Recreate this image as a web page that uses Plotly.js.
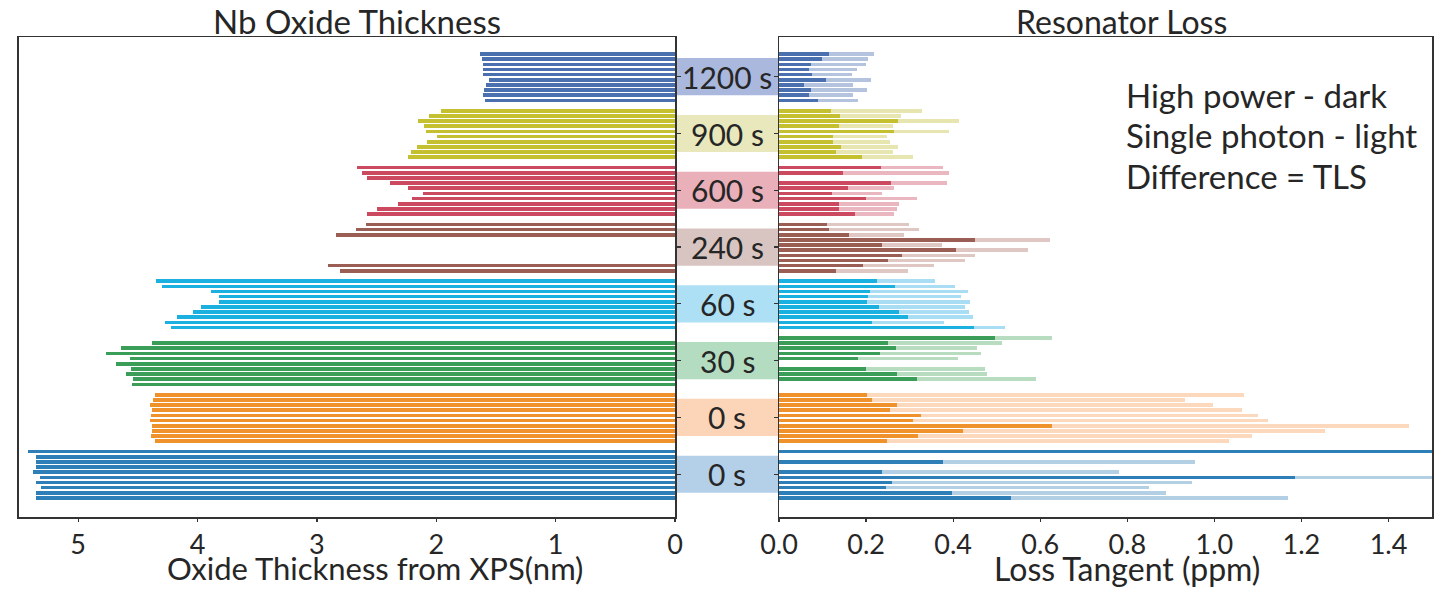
<!DOCTYPE html>
<html>
<head>
<meta charset="utf-8">
<script src="https://cdn.plot.ly/plotly-3.0.1.min.js"></script>
<style>html,body{margin:0;padding:0;background:#fff;}#chart{width:1443px;height:589px;}</style>
</head>
<body>
<div id="chart"></div>
<script>
// Groups from top to bottom
const groupLabels = ["1200 s", "900 s", "600 s", "240 s", "60 s", "30 s", "0 s", "0 s"];
const darkColors  = ["#4a70b0", "#c4c030", "#cc4a60", "#9a5e55", "#1ab0e0", "#3a9e58", "#f0922c", "#2e7eb8"];
const lightColors = ["#b4c3de", "#e8e6b0", "#eab7c0", "#dfc8c4", "#a8ddf3", "#b8dcc0", "#fcd8bc", "#b2cfe4"];
const boxColors   = ["#aab8dd", "#e8e8bc", "#eab0ba", "#d8c4c0", "#ade0f5", "#b4dcc0", "#fcd4b8", "#b4d0e8"];

// Oxide thickness from XPS (nm), 10 samples per group, top to bottom
const oxide1200 = [1.63, 1.62, 1.61, 1.61, 1.61, 1.56, 1.58, 1.60, 1.61, 1.59];
const oxide900  = [1.96, 2.06, 2.15, 2.10, 2.09, 1.99, 2.08, 2.16, 2.21, 2.24];
const oxide600  = [2.66, 2.62, 2.58, 2.39, 2.24, 2.11, 2.20, 2.32, 2.50, 2.58];
const oxide240  = [2.59, 2.67, 2.84, null, null, null, null, null, 2.91, 2.81];
const oxide60   = [4.35, 4.30, 3.89, 3.82, 3.82, 3.97, 4.04, 4.17, 4.27, 4.22];
const oxide30   = [null, 4.38, 4.64, 4.77, 4.57, 4.68, 4.56, 4.60, 4.54, 4.55];
const oxide0a   = [4.36, 4.37, 4.40, 4.38, 4.39, 4.40, 4.38, 4.38, 4.39, 4.36];
const oxide0b   = [5.42, 5.35, 5.35, 5.35, 5.38, 5.32, 5.35, 5.31, 5.35, 5.35];

// Loss tangent (ppm), high power (dark)
const highP1200 = [0.115, 0.099, 0.074, 0.070, 0.076, 0.108, 0.058, 0.074, 0.070, 0.090];
const highP900  = [0.120, 0.139, 0.274, 0.137, 0.264, 0.125, 0.123, 0.142, 0.131, 0.190];
const highP600  = [0.234, 0.148, null, 0.257, 0.158, 0.122, 0.199, 0.138, 0.138, 0.174];
const highP240  = [0.110, 0.115, 0.161, 0.451, 0.237, 0.406, 0.283, 0.250, 0.193, 0.130];
const highP60   = [0.226, 0.267, 0.209, 0.205, 0.203, 0.230, 0.275, 0.296, 0.214, 0.447];
const highP30   = [0.497, 0.251, 0.269, 0.232, 0.182, null, 0.199, 0.271, 0.316, null];
const highP0a   = [0.202, 0.213, 0.270, 0.255, 0.326, 0.307, 0.628, 0.422, 0.319, 0.248];
const highP0b   = [1.60, null, 0.376, null, 0.236, 1.185, 0.259, 0.245, 0.397, 0.532];

// Loss tangent (ppm), single photon (light)
const single1200 = [0.219, 0.205, 0.199, 0.179, 0.168, 0.211, 0.169, 0.202, 0.169, 0.181];
const single900  = [0.329, 0.280, 0.413, 0.261, 0.390, 0.248, 0.254, 0.273, 0.263, 0.307];
const single600  = [0.377, 0.390, null, 0.387, 0.264, 0.237, 0.317, 0.276, 0.270, 0.264];
const single240  = [0.298, 0.321, 0.287, 0.622, 0.374, 0.572, 0.451, 0.428, 0.356, 0.296];
const single60   = [0.358, 0.404, 0.435, 0.417, 0.439, 0.427, 0.437, 0.446, 0.380, 0.520];
const single30   = [0.626, 0.512, 0.454, 0.464, 0.412, null, 0.474, 0.477, 0.591, null];
const single0a   = [1.069, 0.933, 0.997, 1.064, 1.101, 1.124, 1.448, 1.254, 1.087, 1.033];
const single0b   = [1.80, null, 0.956, null, 0.782, 1.80, 0.949, 0.851, 0.889, 1.169];

const oxideGroups  = [oxide1200, oxide900, oxide600, oxide240, oxide60, oxide30, oxide0a, oxide0b];
const highGroups   = [highP1200, highP900, highP600, highP240, highP60, highP30, highP0a, highP0b];
const singleGroups = [single1200, single900, single600, single240, single60, single30, single0a, single0b];

const slotsPerGroup = 11;
const leftTickVals = [0, 1, 2, 3, 4, 5];
const rightTickVals = [0, 0.2, 0.4, 0.6, 0.8, 1.0, 1.2, 1.4];

function flatten(groups, colors) {
  const x = [], y = [], c = [];
  groups.forEach((arr, g) => {
    arr.forEach((v, i) => {
      if (v === null) return;
      x.push(v); y.push(g * slotsPerGroup + i); c.push(colors[g]);
    });
  });
  return {x, y, c};
}

const L = flatten(oxideGroups, darkColors);
const S = flatten(singleGroups, lightColors);
const H = flatten(highGroups, darkColors);
const centers = groupLabels.map((_, g) => g * slotsPerGroup + 4.4);

const FONT = "Lato, 'Open Sans', sans-serif";
const TXT = "#262626";
const barW = 0.7;

const traces = [
  {type: 'bar', orientation: 'h', x: L.x, y: L.y, width: barW, marker: {color: L.c, line: {width: 0}}, xaxis: 'x', yaxis: 'y', hoverinfo: 'x'},
  {type: 'bar', orientation: 'h', x: S.x, y: S.y, width: barW, marker: {color: S.c, line: {width: 0}}, xaxis: 'x2', yaxis: 'y2', hoverinfo: 'x'},
  {type: 'bar', orientation: 'h', x: H.x, y: H.y, width: barW, marker: {color: H.c, line: {width: 0}}, xaxis: 'x2', yaxis: 'y2', hoverinfo: 'x'}
];

const xL = [18.5/1443, 675/1443];
const xR = [779/1443, 1432/1443];
const yD = [1 - 517/589, 1 - 37/589];
const yRange = [89.68, -3.29];

const axLine = {showline: true, linecolor: '#333', linewidth: 1.5, mirror: true, zeroline: false, showgrid: false};

const shapes = centers.map((c, g) => ({
  type: 'rect', xref: 'paper', yref: 'y', x0: xL[1], x1: xR[0], y0: c - 3.6, y1: c + 3.6,
  fillcolor: boxColors[g], line: {width: 0}, layer: 'below'
}));

const annotations = centers.map((c, g) => ({
  xref: 'paper', yref: 'y', x: (xL[1] + xR[0]) / 2, y: c, text: groupLabels[g], showarrow: false,
  xanchor: 'center', yanchor: 'middle', font: {family: FONT, size: 30, color: TXT}
}));
annotations.push(
  {xref: 'paper', yref: 'paper', x: 357/1443, y: 1 - 21/589, text: 'Nb Oxide Thickness', showarrow: false, xanchor: 'center', yanchor: 'middle', font: {family: FONT, size: 33, color: TXT}},
  {xref: 'paper', yref: 'paper', x: 1121/1443, y: 1 - 21/589, text: 'Resonator Loss', showarrow: false, xanchor: 'center', yanchor: 'middle', font: {family: FONT, size: 32, color: TXT}},
  {xref: 'paper', yref: 'paper', x: 375/1443, y: 1 - 568/589, text: 'Oxide Thickness from XPS(nm)', showarrow: false, xanchor: 'center', yanchor: 'middle', font: {family: FONT, size: 31, color: TXT}},
  {xref: 'paper', yref: 'paper', x: 1127/1443, y: 1 - 568/589, text: 'Loss Tangent (ppm)', showarrow: false, xanchor: 'center', yanchor: 'middle', font: {family: FONT, size: 32, color: TXT}},
  {xref: 'paper', yref: 'paper', x: 1124/1443, y: 1 - 95/589, text: 'High power - dark', showarrow: false, xanchor: 'left', yanchor: 'middle', font: {family: FONT, size: 33, color: TXT}},
  {xref: 'paper', yref: 'paper', x: 1124/1443, y: 1 - 135/589, text: 'Single photon - light', showarrow: false, xanchor: 'left', yanchor: 'middle', font: {family: FONT, size: 33, color: TXT}},
  {xref: 'paper', yref: 'paper', x: 1124/1443, y: 1 - 176/589, text: 'Difference = TLS', showarrow: false, xanchor: 'left', yanchor: 'middle', font: {family: FONT, size: 33, color: TXT}}
);

const layout = {
  width: 1443, height: 589,
  margin: {l: 0, r: 0, t: 0, b: 0},
  paper_bgcolor: '#fff', plot_bgcolor: '#fff',
  showlegend: false, barmode: 'overlay', bargap: 0,
  font: {family: FONT, color: TXT},
  xaxis: Object.assign({}, axLine, {domain: xL, anchor: 'y', range: [5.5, 0], tickvals: leftTickVals, ticktext: leftTickVals.map(String),
    ticks: 'outside', ticklen: 3, tickwidth: 1.2, tickcolor: '#333', tickfont: {family: FONT, size: 27, color: TXT}}),
  yaxis: Object.assign({}, axLine, {domain: yD, anchor: 'x', range: yRange, side: 'right', tickvals: centers, showticklabels: false,
    ticks: 'outside', ticklen: 4, tickwidth: 1.2, tickcolor: '#333'}),
  xaxis2: Object.assign({}, axLine, {domain: xR, anchor: 'y2', range: [0, 1.5], tickvals: rightTickVals, ticktext: rightTickVals.map(v => v.toFixed(1)),
    ticks: 'outside', ticklen: 3, tickwidth: 1.2, tickcolor: '#333', tickfont: {family: FONT, size: 27, color: TXT}}),
  yaxis2: Object.assign({}, axLine, {domain: yD, anchor: 'x2', range: yRange, side: 'left', tickvals: centers, showticklabels: false,
    ticks: 'outside', ticklen: 4, tickwidth: 1.2, tickcolor: '#333'}),
  shapes: shapes,
  annotations: annotations
};

Plotly.newPlot('chart', traces, layout, {displayModeBar: false, staticPlot: true});
</script>
</body>
</html>
